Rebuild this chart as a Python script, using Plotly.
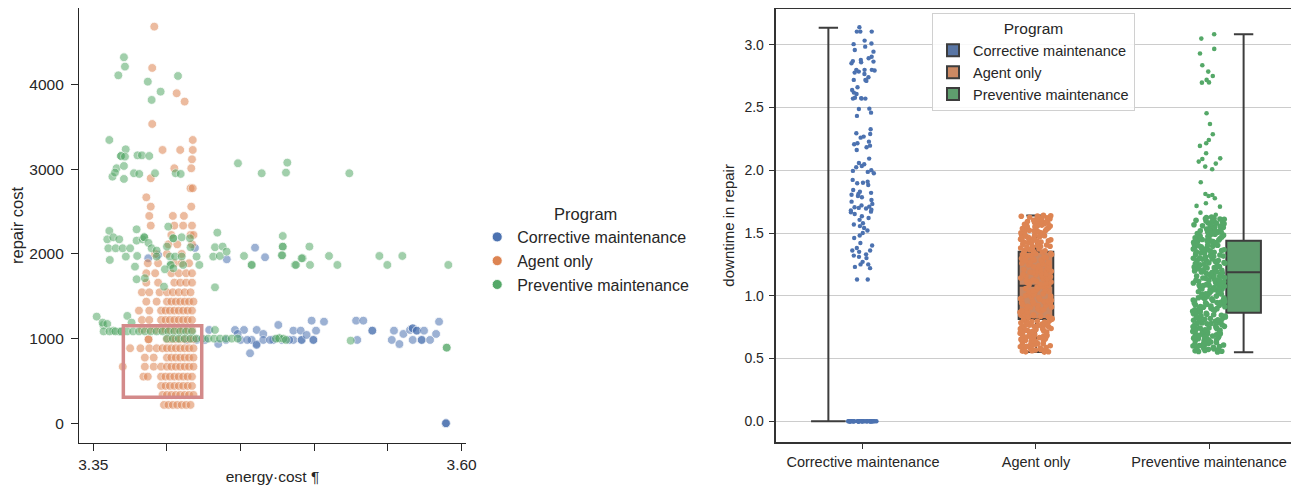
import plotly.graph_objects as go

# ---------------- data: left scatter (energy cost vs repair cost) ----------------
programs = ["Corrective maintenance", "Agent only", "Preventive maintenance"]
colors = ["#4C72B0", "#DD8452", "#55A868"]
box_fill = ["#5875a4", "#cc8963", "#5f9e6e"]

corrective_pts = [
    (3.4598, 2074), (3.4666, 1961), (3.4190, 2071), (3.3940, 1988), (3.3873, 1949), (3.4406, 1937),
    (3.4564, 827), (3.4609, 1102), (3.4654, 1055), (3.4609, 936), (3.4575, 984), (3.4654, 984), (3.4722, 984),
    (3.4756, 1161), (3.4858, 1094), (3.4908, 1094), (3.4858, 984), (3.4914, 984), (3.4914, 984), (3.4948, 1043),
    (3.4982, 1212), (3.5012, 1094), (3.4994, 984), (3.4994, 984), (3.5066, 1200), (3.5284, 1212), (3.5333, 1212),
    (3.5292, 984), (3.5394, 1094), (3.5394, 1094), (3.5541, 1094), (3.5526, 984), (3.5578, 936), (3.5605, 1055),
    (3.5650, 1102), (3.5668, 1122), (3.5668, 1122), (3.5696, 1094), (3.5696, 1094), (3.5745, 1094), (3.5668, 984),
    (3.5729, 984), (3.5729, 984), (3.5786, 984), (3.5827, 1055), (3.5847, 1200),
    (3.4287, 1102), (3.4348, 937), (3.4462, 1102), (3.4523, 1102), (3.4500, 984), (3.4545, 984), (3.4608, 925),
    (3.4258, 984), (3.4133, 984), (3.4201, 984), (3.4400, 984), (3.4480, 1055), (3.4700, 984), (3.4780, 984),
    (3.4830, 984), (3.5894, 0), (3.5894, 0), (3.5894, 0),
]

agent_pts = [
    (3.398, 217), (3.401, 217), (3.404, 217), (3.407, 217), (3.410, 217), (3.413, 217), (3.416, 217),
    (3.397, 335), (3.400, 335), (3.403, 335), (3.406, 335), (3.409, 335), (3.412, 335), (3.415, 335), (3.418, 335),
    (3.396, 441), (3.399, 441), (3.402, 441), (3.405, 441), (3.408, 441), (3.411, 441), (3.414, 441), (3.417, 441),
    (3.384, 551), (3.387, 551), (3.396, 551), (3.399, 551), (3.402, 551), (3.405, 551), (3.408, 551), (3.411, 551),
    (3.414, 551), (3.417, 551),
    (3.370, 669), (3.385, 669), (3.391, 669), (3.396, 669), (3.400, 669), (3.403, 669), (3.406, 669), (3.409, 669),
    (3.412, 669), (3.415, 669), (3.418, 669),
    (3.385, 776), (3.391, 776), (3.400, 776), (3.403, 776), (3.406, 776), (3.409, 776), (3.412, 776), (3.415, 776),
    (3.418, 776),
    (3.375, 886), (3.382, 886), (3.388, 886), (3.393, 886), (3.397, 886), (3.400, 886), (3.403, 886), (3.406, 886),
    (3.409, 886), (3.412, 886), (3.415, 886), (3.418, 886),
    (3.3875, 992), (3.3875, 992), (3.400, 992), (3.403, 992), (3.406, 992), (3.409, 992), (3.412, 992), (3.415, 992),
    (3.418, 992),
    (3.383, 1102), (3.388, 1102), (3.392, 1102), (3.396, 1102), (3.399, 1102), (3.402, 1102), (3.405, 1102),
    (3.408, 1102), (3.411, 1102), (3.414, 1102), (3.417, 1102),
    (3.383, 1220), (3.388, 1220), (3.396, 1220), (3.399, 1220), (3.402, 1220), (3.405, 1220), (3.408, 1220),
    (3.411, 1220), (3.414, 1220), (3.417, 1220),
    (3.381, 1331), (3.388, 1331), (3.396, 1331), (3.399, 1331), (3.402, 1331), (3.405, 1331), (3.408, 1331),
    (3.411, 1331), (3.414, 1331), (3.417, 1331),
    (3.386, 1437), (3.393, 1437), (3.400, 1437), (3.403, 1437), (3.406, 1437), (3.409, 1437), (3.412, 1437),
    (3.415, 1437), (3.418, 1437),
    (3.383, 1547), (3.388, 1547), (3.395, 1547), (3.400, 1547), (3.404, 1547), (3.408, 1547), (3.412, 1547),
    (3.416, 1547),
    (3.386, 1661), (3.394, 1661), (3.405, 1661), (3.409, 1661), (3.413, 1661), (3.417, 1661),
    (3.386, 1772), (3.392, 1772), (3.403, 1772), (3.408, 1772), (3.413, 1772), (3.417, 1772),
    (3.387, 1890), (3.394, 1890), (3.405, 1890), (3.410, 1890), (3.415, 1890),
    (3.392, 2000), (3.400, 2000), (3.410, 2000),
    (3.401, 2114), (3.407, 2114), (3.417, 2114),
    (3.403, 2224), (3.416, 2224), (3.418, 2224),
    (3.389, 2335), (3.405, 2335), (3.411, 2335), (3.417, 2335),
    (3.388, 2449), (3.404, 2449), (3.4115, 2449),
    (3.389, 2559), (3.4165, 2559),
    (3.386, 2669), (3.416, 2776), (3.4175, 2776), (3.389, 2894), (3.405, 3012), (3.4165, 3012), (3.417, 3118),
    (3.397, 3228), (3.409, 3228), (3.4175, 3228), (3.4175, 3346), (3.390, 3535), (3.412, 3800), (3.4066, 3898),
    (3.390, 4197), (3.3914, 4685),
]

preventive_pts = [
    (3.3708, 4323), (3.3715, 4213), (3.3670, 4110), (3.3870, 4035), (3.4075, 4102), (3.3957, 3917), (3.3896, 3819),
    (3.3609, 3346), (3.3720, 3236), (3.3688, 3157), (3.3688, 3157), (3.3715, 3150), (3.3800, 3165), (3.3830, 3165),
    (3.3880, 3157), (3.3658, 3012), (3.3708, 3039), (3.3630, 2913), (3.3647, 2961), (3.3708, 2886), (3.3776, 2953),
    (3.3812, 2945), (3.3919, 2953), (3.4059, 2953), (3.4093, 2945), (3.4482, 3071), (3.4643, 2953), (3.4817, 3079),
    (3.4808, 2961), (3.5238, 2953),
    (3.3609, 2272), (3.3595, 2173), (3.3636, 2197), (3.3676, 2173), (3.3602, 2067), (3.3652, 2067), (3.3699, 2067),
    (3.3750, 2067), (3.3794, 2157), (3.3835, 2173), (3.3846, 2197), (3.3846, 2197), (3.3875, 2130), (3.3896, 2067),
    (3.3930, 2040), (3.3794, 2291), (3.3612, 1929), (3.3721, 1969), (3.3798, 1976), (3.3783, 1850), (3.3794, 1701),
    (3.3850, 1713), (3.3930, 1969), (3.4009, 2323), (3.4000, 2087), (3.4043, 2185), (3.4043, 2185), (3.4100, 2197),
    (3.4020, 1969), (3.4055, 1969), (3.4100, 1969), (3.4025, 1870), (3.4025, 1870), (3.4110, 1870), (3.3986, 1819),
    (3.4043, 1831), (3.4156, 2185), (3.4160, 2079), (3.4201, 1969), (3.4220, 1870), (3.3980, 1614), (3.4342, 2252),
    (3.4326, 2079), (3.4378, 2087), (3.4314, 1969), (3.4359, 1976), (3.4405, 2028), (3.4326, 1606), (3.4523, 1976),
    (3.4575, 1870), (3.4786, 2212), (3.4786, 2086), (3.4786, 2086), (3.4781, 1984), (3.4781, 1984), (3.4869, 1870),
    (3.4921, 1949), (3.4914, 1949), (3.4876, 1870), (3.4967, 2087), (3.4971, 1870), (3.5100, 1976), (3.5157, 1870),
    (3.5442, 1976), (3.5496, 1870), (3.5598, 1976), (3.5910, 1870), (3.4575, 1870),
    (3.3523, 1260), (3.3568, 1161), (3.3563, 1189), (3.3595, 1173), (3.3636, 1094), (3.3681, 1083), (3.3731, 1268),
    (3.3760, 1189), (3.3570, 1085), (3.3610, 1085), (3.3650, 1085), (3.3690, 1085), (3.3730, 1085), (3.3770, 1085),
    (3.3810, 1085), (3.3850, 1085), (3.3890, 1085), (3.3930, 1085), (3.3970, 1085), (3.4010, 1085), (3.4050, 1085),
    (3.4090, 1085), (3.4130, 1085), (3.4170, 1085),
    (3.4000, 1000), (3.4040, 1000), (3.4080, 1000), (3.4120, 1000), (3.4160, 1000), (3.4200, 1000), (3.4240, 1000),
    (3.4280, 1000), (3.4320, 1000), (3.4360, 1000), (3.4400, 1000), (3.4440, 1000), (3.4480, 1000), (3.4326, 1102),
    (3.4763, 1004), (3.4763, 1004), (3.4790, 1000), (3.4808, 984), (3.4740, 1000), (3.5247, 976), (3.5899, 893),
    (3.5899, 893),
]

highlight_box = [3.3704, 3.4236, 307, 1153]  # x0, x1, y0, y1 in data units

x_tickvals = [3.35, 3.40, 3.45, 3.50, 3.55, 3.60]
x_ticktext = ["3.35", "", "", "", "", "3.60"]
y_tickvals = [0, 1000, 2000, 3000, 4000]

# ---------------- data: right strip + box (downtime in repair) ----------------
corrective_downtime = [
    3.139, 3.105, 3.105, 3.105, 3.033, 3.01, 3.005, 2.985, 2.958, 2.945, 2.905, 2.892, 2.879, 2.866, 2.87, 2.86,
    2.853, 2.80, 2.80, 2.795, 2.80, 2.786, 2.778, 2.767, 2.741, 2.72, 2.72, 2.712, 2.661, 2.64, 2.619, 2.608,
    2.571, 2.575, 2.578, 2.571, 2.571, 2.491, 2.488, 2.459, 2.433, 2.327, 2.295, 2.289, 2.268, 2.26, 2.228,
    2.215, 2.207, 2.196, 2.183, 2.162, 2.093, 2.058, 2.048, 2.034, 2.024, 2.0, 1.995, 1.987, 1.976, 1.923,
    1.909, 1.901, 1.897, 1.883, 1.843, 1.829, 1.82, 1.811, 1.805, 1.795, 1.785, 1.763, 1.75, 1.732, 1.72,
    1.71, 1.705, 1.70, 1.695, 1.685, 1.68, 1.67, 1.665, 1.651, 1.633, 1.62, 1.605, 1.578, 1.568, 1.555, 1.54,
    1.52, 1.50, 1.48, 1.46, 1.42, 1.40, 1.38, 1.36, 1.36, 1.35, 1.33, 1.32, 1.31, 1.30, 1.27, 1.25, 1.25,
    1.23, 1.22, 1.13, 1.13,
]
corrective_zero_downtime = [
    0.0, 0.0, 0.0, 0.0, 0.0, 0.0, 0.0, 0.0, 0.0, 0.0, 0.0, 0.0, 0.0, 0.0, 0.0, 0.0, 0.0, 0.0, 0.0, 0.0,
    0.0, 0.0, 0.0, 0.0, 0.0, 0.0, 0.0, 0.0, 0.0, 0.0, 0.0, 0.0, 0.0, 0.0, 0.0, 0.0, 0.0, 0.0, 0.0, 0.0,
]
agent_downtime = [
    0.551, 0.554, 0.559, 0.562, 0.568, 0.571, 0.573, 0.579, 0.585, 0.588, 0.593, 0.598,
    0.601, 0.607, 0.609, 0.614, 0.619, 0.626, 0.629, 0.634, 0.637, 0.643, 0.646, 0.652,
    0.655, 0.661, 0.666, 0.668, 0.674, 0.681, 0.684, 0.687, 0.692, 0.699, 0.702, 0.706,
    0.711, 0.717, 0.719, 0.725, 0.731, 0.733, 0.739, 0.744, 0.748, 0.751, 0.757, 0.763,
    0.766, 0.769, 0.775, 0.781, 0.784, 0.789, 0.795, 0.798, 0.803, 0.806, 0.812, 0.818,
    0.821, 0.827, 0.832, 0.835, 0.841, 0.846, 0.849, 0.855, 0.861, 0.864, 0.868, 0.874,
    0.879, 0.883, 0.887, 0.893, 0.897, 0.902, 0.908, 0.911, 0.916, 0.922, 0.925, 0.931,
    0.936, 0.939, 0.944, 0.951, 0.954, 0.958, 0.963, 0.969, 0.972, 0.977, 0.983, 0.986,
    0.991, 0.997, 1.002, 1.006, 1.011, 1.015, 1.021, 1.024, 1.029, 1.035, 1.038, 1.043,
    1.049, 1.053, 1.057, 1.062, 1.068, 1.071, 1.076, 1.082, 1.085, 1.091, 1.094, 1.099,
    1.105, 1.109, 1.113, 1.118, 1.124, 1.127, 1.133, 1.138, 1.142, 1.147, 1.152, 1.156,
    1.161, 1.167, 1.171, 1.174, 1.181, 1.184, 1.189, 1.195, 1.198, 1.203, 1.209, 1.212,
    1.217, 1.223, 1.226, 1.231, 1.237, 1.241, 1.245, 1.251, 1.254, 1.259, 1.264, 1.269,
    1.273, 1.279, 1.283, 1.287, 1.293, 1.297, 1.302, 1.307, 1.311, 1.316, 1.321, 1.326,
    1.329, 1.335, 1.339, 1.344, 1.349, 1.353, 1.358, 1.363, 1.366, 1.372, 1.377, 1.381,
    1.386, 1.391, 1.395, 1.401, 1.404, 1.409, 1.415, 1.418, 1.423, 1.429, 1.432, 1.437,
    1.443, 1.446, 1.451, 1.457, 1.461, 1.465, 1.471, 1.474, 1.479, 1.485, 1.488, 1.493,
    1.498, 1.502, 1.507, 1.513, 1.516, 1.521, 1.527, 1.531, 1.535, 1.541, 1.544, 1.549,
    1.554, 1.558, 1.563, 1.569, 1.572, 1.577, 1.583, 1.586, 1.591, 1.596, 1.601, 1.605,
    1.611, 1.614, 1.619, 1.625, 1.628, 1.633, 1.637, 1.641,
    0.553, 0.566, 0.583, 0.604, 0.617, 0.639, 0.658, 0.671, 0.693, 0.714, 0.736, 0.754,
    0.772, 0.791, 1.392, 1.412, 1.427, 1.448, 1.466, 1.482, 1.503, 1.519, 1.538, 1.556,
    1.574, 1.593, 1.609, 1.622, 1.635,
]
preventive_downtime = [
    0.552, 0.556, 0.558, 0.564, 0.567, 0.573, 0.577, 0.582, 0.586, 0.591, 0.596, 0.599,
    0.604, 0.608, 0.613, 0.618, 0.622, 0.627, 0.631, 0.635, 0.641, 0.644, 0.649, 0.653,
    0.658, 0.662, 0.667, 0.672, 0.676, 0.681, 0.685, 0.689, 0.694, 0.698, 0.703, 0.707,
    0.712, 0.716, 0.721, 0.725, 0.729, 0.734, 0.738, 0.743, 0.747, 0.752, 0.756, 0.761,
    0.765, 0.769, 0.774, 0.778, 0.783, 0.787, 0.791, 0.796, 0.801, 0.804, 0.809, 0.813,
    0.818, 0.822, 0.826, 0.831, 0.835, 0.839, 0.844, 0.848, 0.853, 0.857, 0.861, 0.866,
    0.871, 0.874, 0.879, 0.883, 0.888, 0.892, 0.897, 0.901, 0.905, 0.909, 0.914, 0.918,
    0.923, 0.927, 0.931, 0.936, 0.941, 0.944, 0.949, 0.953, 0.958, 0.962, 0.966, 0.971,
    0.975, 0.979, 0.984, 0.988, 0.993, 0.997, 1.001, 1.006, 1.011, 1.014, 1.019, 1.023,
    1.028, 1.032, 1.036, 1.041, 1.045, 1.049, 1.054, 1.058, 1.063, 1.067, 1.071, 1.076,
    1.081, 1.084, 1.089, 1.093, 1.098, 1.102, 1.106, 1.111, 1.115, 1.119, 1.124, 1.128,
    1.133, 1.137, 1.141, 1.146, 1.151, 1.154, 1.159, 1.163, 1.168, 1.172, 1.176, 1.181,
    1.185, 1.189, 1.194, 1.198, 1.203, 1.207, 1.211, 1.216, 1.221, 1.224, 1.229, 1.233,
    1.238, 1.242, 1.246, 1.251, 1.255, 1.259, 1.264, 1.268, 1.273, 1.277, 1.281, 1.286,
    1.291, 1.294, 1.299, 1.303, 1.308, 1.312, 1.316, 1.321, 1.325, 1.329, 1.334, 1.338,
    1.343, 1.347, 1.351, 1.356, 1.361, 1.364, 1.369, 1.373, 1.378, 1.382, 1.386, 1.391,
    1.395, 1.399, 1.404, 1.408, 1.413, 1.417, 1.421, 1.426, 1.431, 1.434, 1.439, 1.443,
    1.448, 1.452, 1.456, 1.461, 1.465, 1.469, 1.474, 1.478, 1.483, 1.487, 1.491, 1.496,
    1.501, 1.504, 1.509, 1.513, 1.518, 1.522, 1.526, 1.531, 1.535, 1.539, 1.544, 1.548,
    1.553, 1.557, 1.561, 1.566, 1.571, 1.574, 1.579, 1.583, 1.588, 1.592, 1.596, 1.601,
    1.605, 1.609, 1.614, 1.618, 1.623, 1.627,
    0.561, 0.589, 0.612, 0.646, 0.679, 0.709, 0.742, 0.776, 0.807, 0.841, 0.876, 0.912,
    0.946, 0.981, 1.016, 1.052, 1.086, 1.121, 1.157, 1.192, 1.227, 1.262, 1.297, 1.331,
    1.366, 1.402, 1.437, 1.472, 1.507, 1.541, 1.577, 1.612,
]
preventive_tail_downtime = [
    3.084, 3.049, 2.967, 2.93, 2.837, 2.786, 2.751, 2.72, 2.70, 2.698, 2.454, 2.369, 2.287, 2.241, 2.215,
    2.194, 2.135, 2.09, 2.095, 2.069, 2.053, 2.029, 2.008, 1.904, 1.811, 1.803, 1.795, 1.777, 1.737, 1.716,
    1.71, 1.662, 1.645,
]

# box statistics (q1, median, q3, lower whisker, upper whisker)
box_q1 = [0.0, 0.815, 0.865]
box_median = [0.0, 1.08, 1.187]
box_q3 = [0.0, 1.351, 1.439]
box_low = [0.0, 0.552, 0.55]
box_high = [3.136, 1.64, 3.084]

y2_tickvals = [0.0, 0.5, 1.0, 1.5, 2.0, 2.5, 3.0]
y2_ticktext = ["0.0", "0.5", "1.0", "1.5", "2.0", "2.5", "3.0"]

# ---------------- figure ----------------
# the page body has an 8px margin, so the figure is drawn 8px smaller and starts at (8, 8)
INK = "#262626"
FONT = "Liberation Sans, Arial, Helvetica, sans-serif"
fig = go.Figure()

scatter_sets = [corrective_pts, agent_pts, preventive_pts]
for name, col, pts in zip(programs, colors, scatter_sets):
    fig.add_trace(go.Scatter(
        x=[p[0] for p in pts], y=[p[1] for p in pts], mode="markers", name=name,
        marker=dict(color=col, size=8.8, opacity=0.55, line=dict(color="white", width=0.8)),
        showlegend=False, xaxis="x", yaxis="y", hoverinfo="x+y",
    ))
for name, col in zip(programs, colors):
    fig.add_trace(go.Scatter(
        x=[None], y=[None], mode="markers", name=name,
        marker=dict(color=col, size=10, line=dict(color="white", width=0.8)),
        legend="legend", xaxis="x", yaxis="y",
    ))

# boxes (dodged by hue)
for i, (name, fill) in enumerate(zip(programs, box_fill)):
    fig.add_trace(go.Box(
        x=[name], q1=[box_q1[i]], median=[box_median[i]], q3=[box_q3[i]],
        lowerfence=[box_low[i]], upperfence=[box_high[i]],
        name=name, fillcolor=fill, line=dict(color="#3d3d3d", width=2),
        whiskerwidth=0.56, boxpoints=False, alignmentgroup="boxes", offsetgroup=str(i),
        legend="legend2", xaxis="x2", yaxis="y2",
    ))

# strip points (centered on category)
strip_sets = [
    (programs[0], colors[0], corrective_downtime, 0.82, 4.4),
    (programs[0], colors[0], corrective_zero_downtime, 0.88, 4.4),
    (programs[1], "#DD8452", agent_downtime, 0.93, 5.6),
    (programs[2], "#55A868", preventive_downtime, 0.95, 5.6),
    (programs[2], "#55A868", preventive_tail_downtime, 0.85, 4.6),
]
for name, col, vals, jit, sz in strip_sets:
    fig.add_trace(go.Box(
        x=[name] * len(vals), y=vals, name=name, width=0.2,
        boxpoints="all", jitter=jit, pointpos=0,
        marker=dict(color=col, size=sz, line=dict(width=0)),
        line=dict(width=0, color="rgba(0,0,0,0)"), fillcolor="rgba(0,0,0,0)",
        showlegend=False, hoveron="points", xaxis="x2", yaxis="y2",
    ))

x0, x1, y0, y1 = highlight_box
fig.add_shape(type="rect", xref="x", yref="y", x0=x0, x1=x1, y0=y0, y1=y1,
              line=dict(color="#d38a8a", width=3.5), fillcolor="rgba(0,0,0,0)", layer="above")

fig.update_layout(
    width=1291, height=477,
    margin=dict(l=71, r=3, t=0, b=42, autoexpand=False),
    paper_bgcolor="white", plot_bgcolor="white",
    font=dict(family=FONT, color=INK),
    boxmode="group", boxgap=0.4, boxgroupgap=0.0,
    xaxis=dict(
        domain=[0, 0.318], range=[3.3403, 3.603], tickvals=x_tickvals, ticktext=x_ticktext,
        ticks="outside", ticklen=7, tickwidth=1.3, tickcolor=INK,
        showline=True, linecolor=INK, linewidth=1.3, showgrid=False, zeroline=False,
        tickfont=dict(size=15.5, color=INK),
        title=dict(text="energy·cost ¶", font=dict(size=15.5, color=INK), standoff=0),
    ),
    yaxis=dict(
        domain=[0, 1], range=[-233, 4905], tickvals=y_tickvals,
        ticks="outside", ticklen=7, tickwidth=1.3, tickcolor=INK, ticklabelstandoff=4,
        showline=True, linecolor=INK, linewidth=1.3, showgrid=False, zeroline=False,
        tickfont=dict(size=15.5, color=INK),
        title=dict(text="repair cost", font=dict(size=16.5, color=INK), standoff=8),
    ),
    xaxis2=dict(
        domain=[0.5731, 0.9996], anchor="y2", type="category",
        categoryorder="array", categoryarray=programs, range=[-0.5, 2.5],
        ticks="outside", ticklen=6, tickwidth=1.3, tickcolor="#333333",
        showline=True, mirror=True, linecolor="#333333", linewidth=1.5, showgrid=False, zeroline=False,
        tickfont=dict(size=14.5, color=INK),
    ),
    yaxis2=dict(
        domain=[0.003, 0.9977], anchor="x2", range=[-0.163, 3.285],
        tickvals=y2_tickvals, ticktext=y2_ticktext,
        ticks="outside", ticklen=6, tickwidth=1.3, tickcolor="#333333", ticklabelstandoff=2,
        showline=True, mirror=True, linecolor="#333333", linewidth=1.5,
        showgrid=True, gridcolor="#cccccc", gridwidth=1, zeroline=False,
        tickfont=dict(size=14, color=INK),
        title=dict(text="downtime in repair", font=dict(size=15, color=INK), standoff=6),
    ),
    legend=dict(
        x=0.3272, y=0.562, xanchor="left", yanchor="top",
        title=dict(text="Program", side="top center", font=dict(size=16.5, color=INK)),
        font=dict(size=16, color=INK), bgcolor="rgba(0,0,0,0)", borderwidth=0, tracegroupgap=0,
    ),
    legend2=dict(
        x=0.7009, y=0.988, xanchor="left", yanchor="top",
        title=dict(text="Program", side="top center", font=dict(size=15.5, color=INK)),
        font=dict(size=14.5, color=INK), bgcolor="rgba(255,255,255,0.85)",
        bordercolor="#d0d0d0", borderwidth=1, tracegroupgap=0,
    ),
    showlegend=True,
)

fig.write_html("out.html")
